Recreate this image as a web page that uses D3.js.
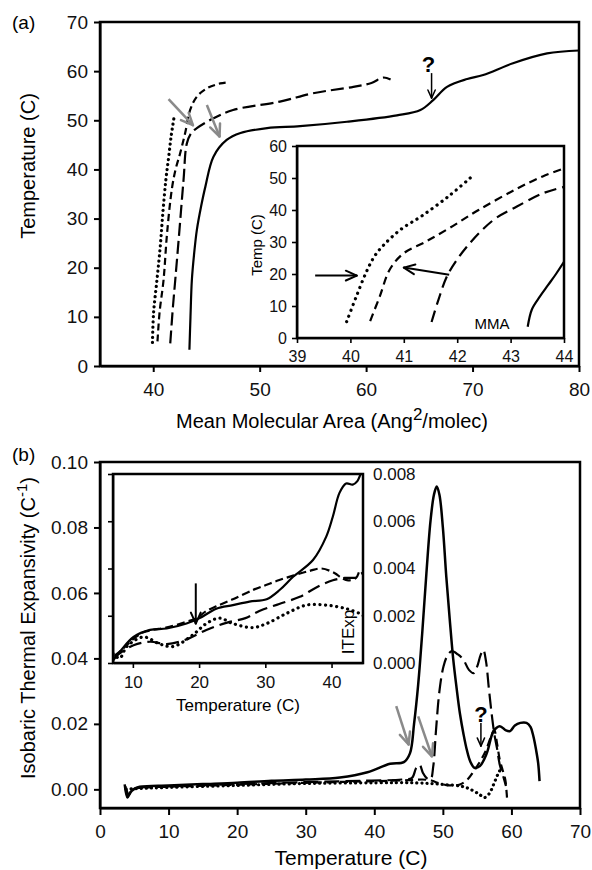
<!DOCTYPE html>
<html>
<head>
<meta charset="utf-8">
<script src="https://cdn.jsdelivr.net/npm/d3@7"></script>
<style>
  body { margin: 0; background: #fff; }
  svg { font-family: "Liberation Sans", Arial, sans-serif; }
  .axis path, .axis line { stroke: #000; stroke-width: 2; }
  .inset .axis path, .inset .axis line { stroke-width: 1.6; }
  .axis text { fill: #111; }
</style>
</head>
<body>
<svg id="chart" width="592" height="870"></svg>
<script>
// ---------- data ----------

// panel (a): [mean molecular area, temperature]
var aSolid = [[43.4,3.3],[43.5,10],[43.63,17.5],[43.85,23],[44.1,27.7],[44.5,32.5],[44.9,36.5],[45.66,42.6],[46.9,46],[48.2,47.4],[50.7,48.4],[53.8,48.8],[58.2,49.7],[62.9,51],[65.1,52.1],[66.3,54.1],[67.6,56.8],[69.5,58.4],[71,59.2],[73.8,61.6],[77,63.6],[80,64.2]];
var aLongDash = [[41.6,4.6],[41.85,12],[42.07,17.5],[42.4,26],[42.85,37.9],[43.16,45.3],[43.6,47.5],[44.1,48.4],[45.66,50.4],[47.5,52.1],[51.9,53.8],[55,55.5],[58.8,56.8],[60.5,57.6],[61.6,58.7],[62.3,58.3]];
var aShortDash = [[40.4,5],[40.6,11],[40.97,17.5],[41.3,27],[41.75,36],[42.1,40],[42.53,43.3],[43.0,47.4],[43.47,52.1],[44.1,54.8],[45.04,56.5],[46.3,57.5],[46.9,57.7]];
var aDotted = [[39.93,4.8],[40.03,10.7],[40.35,17.5],[40.66,24.3],[40.9,31],[41.19,37.9],[41.45,42.5],[41.7,47],[41.95,50.5]];

// inset of (a), zoomed on 39-44
var iaSolid = [[43.32,3.5],[43.4,9],[43.55,13],[43.7,16.5],[43.85,20],[44,23.8]];
var iaLongDash = [[41.52,5],[41.65,12],[41.83,20],[42.18,28.5],[42.68,36.9],[43.11,41],[43.6,45.2],[44,47.2]];
var iaShortDash = [[40.37,5.3],[40.55,13],[40.74,21.5],[41.0,26.5],[41.4,30],[41.87,34.5],[42.4,40],[43.1,46.5],[43.6,50.5],[44,53]];
var iaDotted = [[39.93,5.1],[40.1,12.5],[40.3,20.7],[40.45,25.5],[40.62,29],[40.93,33.75],[41.36,38.4],[41.87,44.7],[42.27,50.4]];

// panel (b): [temperature, isobaric thermal expansivity]
var bSolid = [[3.6,0.0015],[4.0,-0.0025],[4.4,-0.001],[4.9,0.0],[5.8,0.0008],[10,0.0012],[15,0.0016],[20,0.002],[25,0.0026],[30,0.003],[35,0.0036],[39,0.0052],[42.3,0.0078],[44.3,0.0083],[45.2,0.011],[45.8,0.02],[46.4,0.032],[47.0,0.048],[47.6,0.066],[48.2,0.082],[48.7,0.090],[49.1,0.0925],[49.5,0.090],[50.0,0.080],[50.5,0.065],[51.0,0.052],[51.5,0.040],[52,0.031],[52.5,0.023],[53,0.017],[53.5,0.012],[54,0.0085],[54.6,0.0066],[55.4,0.0071],[56.4,0.011],[57.4,0.0178],[58.3,0.0193],[59.2,0.018],[59.8,0.0178],[60.5,0.0195],[61.3,0.0203],[62.2,0.0203],[62.8,0.019],[63.2,0.0162],[63.6,0.012],[63.9,0.008],[64.1,0.0025]];
var bLongDash = [[3.7,0.001],[4.1,-0.002],[4.6,-0.0005],[5.2,0.0003],[10,0.0009],[20,0.0016],[30,0.0022],[38,0.0026],[44,0.003],[45.5,0.0035],[46.1,0.0065],[46.6,0.0075],[47.1,0.005],[47.6,0.0035],[48.2,0.003],[48.6,0.007],[49.0,0.018],[49.5,0.03],[50.1,0.0376],[50.7,0.041],[51.3,0.0422],[52.2,0.0412],[53,0.0396],[53.8,0.0365],[54.5,0.0355],[55.0,0.0375],[55.5,0.041],[55.9,0.0426],[56.3,0.039],[56.7,0.031],[57.1,0.0234],[57.5,0.017],[57.9,0.0125],[58.3,0.0075],[58.8,0.004],[59.2,0.001]];
var bShortDash = [[3.8,0.0005],[4.2,-0.0015],[4.8,0.0],[6,0.0005],[10,0.0008],[20,0.0014],[30,0.002],[40,0.0025],[45,0.0028],[47,0.003],[48.3,0.0027],[49.5,0.0018],[50.5,0.0013],[51.5,0.0012],[52.5,0.0015],[53.5,0.0028],[54.5,0.0055],[55.5,0.0088],[56.3,0.012],[57,0.016],[57.5,0.018],[57.9,0.014],[58.3,0.009],[58.7,0.006],[59.1,0.003],[59.3,-0.001],[59.4,-0.004]];
var bDotted = [[3.8,0.0],[5,0.0002],[10,0.0006],[20,0.0012],[30,0.0018],[40,0.002],[46,0.002],[50,0.0015],[53,0.0008],[54.5,-0.0005],[55.5,-0.0018],[56.1,-0.0025],[56.8,-0.0012],[57.4,0.0015],[58,0.0045],[58.5,0.0065]];

// inset of (b), zoomed on 7-45 C
var ibSolid = [[7,0.0001],[8.1,0.0005],[10.1,0.0011],[12.6,0.0014],[15.1,0.00146],[18.1,0.00167],[20.1,0.0019],[22.6,0.0023],[25.1,0.00245],[27.6,0.0026],[30.2,0.0027],[32.2,0.0031],[34.2,0.00365],[37.2,0.00436],[39.2,0.00535],[40.2,0.0062],[41.2,0.0072],[42.2,0.0076],[43.2,0.00755],[43.9,0.0077],[44.4,0.008],[44.8,0.0082]];
var ibShortDash = [[7.2,0.0003],[8.5,0.0006],[10,0.001],[11.6,0.0013],[13,0.0014],[15,0.0015],[17.6,0.0017],[19.6,0.0019],[21.1,0.0022],[22.6,0.0024],[25.1,0.0027],[28.2,0.0031],[30.1,0.0033],[32,0.0035],[34.2,0.0037],[36.7,0.0039],[38.5,0.004],[40.5,0.0038],[41.5,0.0036],[42.5,0.0035],[43.7,0.0036],[44.3,0.0039],[44.8,0.0037]];
var ibLongDash = [[7.1,0.0002],[8.5,0.0005],[10.1,0.00075],[12.6,0.0009],[15.1,0.0008],[18.1,0.001],[21.1,0.0014],[24.1,0.0017],[27,0.0019],[29.1,0.0022],[32.1,0.0025],[35.2,0.0028],[37.7,0.0032],[40.2,0.0035],[42,0.0036],[43.5,0.0036],[44.8,0.0036]];
var ibDotted = [[7,0.0004],[8,0.0002],[9.1,0.0007],[11.6,0.0011],[14.1,0.0008],[16.1,0.0007],[19.1,0.0012],[21.1,0.00167],[23.1,0.0019],[25.1,0.00167],[28.1,0.0015],[30.2,0.00167],[33.2,0.0021],[36.2,0.00245],[39.2,0.00245],[42.2,0.0023],[44.2,0.0021],[44.8,0.002]];

// tick values
var aXTicks = [40, 50, 60, 70, 80];
var aYTicks = [0, 10, 20, 30, 40, 50, 60, 70];
var iaXTicks = [39, 40, 41, 42, 43, 44];
var iaYTicks = [0, 10, 20, 30, 40, 50, 60];
var bXTicks = [0, 10, 20, 30, 40, 50, 60, 70];
var bYTicks = [0, 0.02, 0.04, 0.06, 0.08, 0.10];
var ibXTicks = [10, 20, 30, 40];
var ibYTicks = [0, 0.002, 0.004, 0.006, 0.008];

// annotations: [x1, y1, x2, y2] in data units
var aGrayArrows = [[41.44,54.3,43.73,49.0],[45.04,53.1,46.23,46.7]];
var aQuestion = [66.15,59.6,66.15,54.5];
var iaArrows = [[39.34,19.5,40.12,19.5],[41.85,19.8,41.0,22.0]];
var bGrayArrows = [[43.2,0.0254,45.0,0.0137],[46.4,0.0223,48.4,0.0101]];
var bQuestion = [55.55,0.0203,55.55,0.0132];
var ibArrows = [[19.5,0.00337,19.5,0.00167]];

// ---------- helpers ----------
var svg = d3.select("#chart");

var styles = {
  solid:     { w: 2.2, dash: null,      cap: "butt" },
  shortDash: { w: 2.2, dash: "7,4",     cap: "butt" },
  longDash:  { w: 2.2, dash: "13,5",    cap: "butt" },
  dotted:    { w: 3.2, dash: "0.1,5",   cap: "round" }
};

function drawCurve(g, x, y, data, style) {
  var line = d3.line()
    .x(function(d) { return x(d[0]); })
    .y(function(d) { return y(d[1]); })
    .curve(d3.curveCatmullRom.alpha(0.5));
  g.append("path")
    .datum(data)
    .attr("d", line)
    .attr("fill", "none")
    .attr("stroke", "#000")
    .attr("stroke-width", style.w)
    .attr("stroke-dasharray", style.dash)
    .attr("stroke-linecap", style.cap);
}

function drawArrow(g, x, y, a, color, w, head) {
  var x1 = x(a[0]), y1 = y(a[1]), x2 = x(a[2]), y2 = y(a[3]);
  var ang = Math.atan2(y2 - y1, x2 - x1);
  g.append("line")
    .attr("x1", x1).attr("y1", y1).attr("x2", x2).attr("y2", y2)
    .attr("stroke", color).attr("stroke-width", w);
  [-1, 1].forEach(function(s) {
    var t = ang + Math.PI + s * 0.42;
    g.append("line")
      .attr("x1", x2).attr("y1", y2)
      .attr("x2", x2 + head * Math.cos(t)).attr("y2", y2 + head * Math.sin(t))
      .attr("stroke", color).attr("stroke-width", w)
      .attr("stroke-linecap", "round");
  });
}

// ---------- panel (a) ----------
var xA = d3.scaleLinear().domain([35, 80]).range([100, 579]);
var yA = d3.scaleLinear().domain([0, 70]).range([366, 22]);

var gA = svg.append("g");

gA.append("g").attr("class", "axis")
  .attr("transform", "translate(0,366)")
  .call(d3.axisBottom(xA).tickValues(aXTicks).tickSize(6).tickSizeOuter(0).tickPadding(11))
  .attr("font-size", 19).attr("font-family", null);

gA.append("g").attr("class", "axis")
  .attr("transform", "translate(100,0)")
  .call(d3.axisLeft(yA).tickValues(aYTicks).tickSize(6).tickSizeOuter(0).tickPadding(6))
  .attr("font-size", 19).attr("font-family", null);

gA.append("rect")
  .attr("x", 100).attr("y", 22).attr("width", 479).attr("height", 344)
  .attr("fill", "none").attr("stroke", "#000").attr("stroke-width", 2.5);

drawCurve(gA, xA, yA, aSolid, styles.solid);
drawCurve(gA, xA, yA, aLongDash, styles.longDash);
drawCurve(gA, xA, yA, aShortDash, styles.shortDash);
drawCurve(gA, xA, yA, aDotted, styles.dotted);

aGrayArrows.forEach(function(a) { drawArrow(gA, xA, yA, a, "#8a8a8a", 2.5, 13); });
drawArrow(gA, xA, yA, aQuestion, "#000", 1.5, 9);
gA.append("text")
  .attr("x", xA(aQuestion[0]) - 3).attr("y", yA(aQuestion[1]) - 1)
  .attr("text-anchor", "middle").attr("font-size", "22px").attr("font-weight", "bold")
  .text("?");

gA.append("text").attr("x", 12).attr("y", 29).attr("font-size", "19px").text("(a)");

gA.append("text")
  .attr("transform", "translate(35,166) rotate(-90)")
  .attr("text-anchor", "middle").attr("font-size", "20px")
  .text("Temperature (C)");

var xTitleA = gA.append("text")
  .attr("x", 332).attr("y", 428)
  .attr("text-anchor", "middle").attr("font-size", "20px");
xTitleA.append("tspan").text("Mean Molecular Area (Ang");
xTitleA.append("tspan").attr("dy", -8).attr("font-size", "17px").text("2");
xTitleA.append("tspan").attr("dy", 8).text("/molec)");

// inset of (a)
var xIA = d3.scaleLinear().domain([39, 44]).range([297, 564]);
var yIA = d3.scaleLinear().domain([0, 60]).range([338, 146]);

var gIA = svg.append("g").attr("class", "inset");
gIA.append("rect")
  .attr("x", 297).attr("y", 146).attr("width", 267).attr("height", 192)
  .attr("fill", "#fff");

gIA.append("clipPath").attr("id", "clipIA")
  .append("rect").attr("x", 297).attr("y", 146).attr("width", 267).attr("height", 192);

var gIAc = gIA.append("g").attr("clip-path", "url(#clipIA)");
drawCurve(gIAc, xIA, yIA, iaSolid, styles.solid);
drawCurve(gIAc, xIA, yIA, iaLongDash, { w: 2.2, dash: "12,6", cap: "butt" });
drawCurve(gIAc, xIA, yIA, iaShortDash, { w: 2.2, dash: "8,5", cap: "butt" });
drawCurve(gIAc, xIA, yIA, iaDotted, { w: 3.2, dash: "0.1,6", cap: "round" });

gIA.append("g").attr("class", "axis")
  .attr("transform", "translate(0,338)")
  .call(d3.axisBottom(xIA).tickValues(iaXTicks).tickFormat(d3.format("d")).tickSize(5).tickSizeOuter(0).tickPadding(8))
  .attr("font-size", 16).attr("font-family", null);
gIA.append("g").attr("class", "axis")
  .attr("transform", "translate(297,0)")
  .call(d3.axisLeft(yIA).tickValues(iaYTicks).tickSize(5).tickSizeOuter(0).tickPadding(5))
  .attr("font-size", 16).attr("font-family", null);

gIA.append("rect")
  .attr("x", 297).attr("y", 146).attr("width", 267).attr("height", 192)
  .attr("fill", "none").attr("stroke", "#000").attr("stroke-width", 2.5);

iaArrows.forEach(function(a) { drawArrow(gIA, xIA, yIA, a, "#000", 2, 12); });

gIA.append("text")
  .attr("transform", "translate(262,245) rotate(-90)")
  .attr("text-anchor", "middle").attr("font-size", "15px")
  .text("Temp (C)");
gIA.append("text")
  .attr("x", 492).attr("y", 329)
  .attr("text-anchor", "middle").attr("font-size", "15px")
  .text("MMA");

// ---------- panel (b) ----------
var xB = d3.scaleLinear().domain([0, 70]).range([100, 580]);
var yB = d3.scaleLinear().domain([-0.0057, 0.10]).range([808, 462]);

var gB = svg.append("g");

gB.append("g").attr("class", "axis")
  .attr("transform", "translate(0,808)")
  .call(d3.axisBottom(xB).tickValues(bXTicks).tickSize(7).tickSizeOuter(0).tickPadding(10))
  .attr("font-size", 19).attr("font-family", null);
gB.append("g").attr("class", "axis")
  .attr("transform", "translate(100,0)")
  .call(d3.axisLeft(yB).tickValues(bYTicks).tickFormat(d3.format(".2f")).tickSize(6).tickSizeOuter(0).tickPadding(6))
  .attr("font-size", 19).attr("font-family", null);

gB.append("rect")
  .attr("x", 100).attr("y", 462).attr("width", 480).attr("height", 346)
  .attr("fill", "none").attr("stroke", "#000").attr("stroke-width", 2.5);

drawCurve(gB, xB, yB, bDotted, styles.dotted);
drawCurve(gB, xB, yB, bShortDash, { w: 2.2, dash: "8,5", cap: "butt" });
drawCurve(gB, xB, yB, bLongDash, { w: 2.2, dash: "15,6", cap: "butt" });
drawCurve(gB, xB, yB, bSolid, { w: 2.5, dash: null, cap: "butt" });

bGrayArrows.forEach(function(a) { drawArrow(gB, xB, yB, a, "#8a8a8a", 2.5, 13); });
drawArrow(gB, xB, yB, bQuestion, "#000", 1.5, 9);
gB.append("text")
  .attr("x", xB(bQuestion[0])).attr("y", yB(bQuestion[1]) - 1)
  .attr("text-anchor", "middle").attr("font-size", "22px").attr("font-weight", "bold")
  .text("?");

gB.append("text").attr("x", 12).attr("y", 461).attr("font-size", "19px").text("(b)");

var yTitleB = gB.append("text")
  .attr("transform", "translate(35,628) rotate(-90)")
  .attr("text-anchor", "middle").attr("font-size", "20px");
yTitleB.append("tspan").text("Isobaric Thermal Expansivity (C");
yTitleB.append("tspan").attr("dy", -8).attr("font-size", "15px").text("-1");
yTitleB.append("tspan").attr("dy", 8).text(")");

gB.append("text")
  .attr("x", 351).attr("y", 865)
  .attr("text-anchor", "middle").attr("font-size", "21px")
  .text("Temperature (C)");

// inset of (b)
var xIB = d3.scaleLinear().domain([7, 44.75]).range([113, 363]);
var yIB = d3.scaleLinear().domain([0, 0.008]).range([663, 474]);

var gIB = svg.append("g").attr("class", "inset");
gIB.append("rect")
  .attr("x", 113).attr("y", 474).attr("width", 250).attr("height", 189)
  .attr("fill", "#fff");
gIB.append("clipPath").attr("id", "clipIB")
  .append("rect").attr("x", 113).attr("y", 474).attr("width", 250).attr("height", 189);

var gIBc = gIB.append("g").attr("clip-path", "url(#clipIB)");
drawCurve(gIBc, xIB, yIB, ibDotted, { w: 3.2, dash: "0.1,5.5", cap: "round" });
drawCurve(gIBc, xIB, yIB, ibLongDash, { w: 2.2, dash: "13,6", cap: "butt" });
drawCurve(gIBc, xIB, yIB, ibShortDash, { w: 2.2, dash: "8,4", cap: "butt" });
drawCurve(gIBc, xIB, yIB, ibSolid, styles.solid);

gIB.append("g").attr("class", "axis")
  .attr("transform", "translate(0,663)")
  .call(d3.axisBottom(xIB).tickValues(ibXTicks).tickSize(5).tickSizeOuter(0).tickPadding(8))
  .attr("font-size", 17).attr("font-family", null);
gIB.append("g").attr("class", "axis")
  .attr("transform", "translate(113,0)")
  .call(d3.axisLeft(yIB).tickValues(ibYTicks).tickSize(5).tickSizeOuter(0).tickFormat(""));
gIB.append("g").attr("class", "axis")
  .attr("transform", "translate(363,0)")
  .call(d3.axisRight(yIB).tickValues(ibYTicks).tickFormat(d3.format(".3f")).tickSize(0).tickPadding(10))
  .attr("font-size", 17).attr("font-family", null)
  .select(".domain").remove();

gIB.append("rect")
  .attr("x", 113).attr("y", 474).attr("width", 250).attr("height", 189)
  .attr("fill", "none").attr("stroke", "#000").attr("stroke-width", 2.5);

ibArrows.forEach(function(a) { drawArrow(gIB, xIB, yIB, a, "#000", 2, 12); });

gIB.append("text")
  .attr("x", 238).attr("y", 711)
  .attr("text-anchor", "middle").attr("font-size", "17px")
  .text("Temperature (C)");
gIB.append("text")
  .attr("transform", "translate(354,632) rotate(-90)")
  .attr("text-anchor", "middle").attr("font-size", "17px")
  .text("ITExp");
</script>
</body>
</html>
